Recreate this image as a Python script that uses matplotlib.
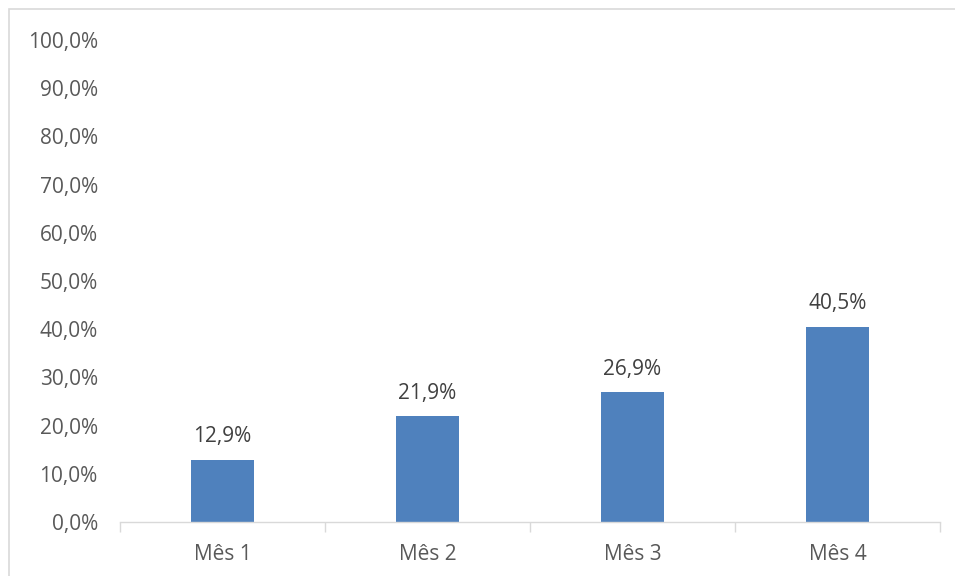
import matplotlib.pyplot as plt
from matplotlib.patches import Rectangle

months = ['Mês 1', 'Mês 2', 'Mês 3', 'Mês 4']
values = [12.9, 21.9, 26.9, 40.5]
yticks = [0, 10, 20, 30, 40, 50, 60, 70, 80, 90, 100]

bar_color = '#4F81BD'
tick_color = '#595959'
label_color = '#404040'
grid_color = '#D9D9D9'

plt.rcParams['font.family'] = ['Open Sans', 'DejaVu Sans']

fig = plt.figure(figsize=(9.55, 5.76), dpi=100)
ax = fig.add_axes([120 / 955, 1 - 522 / 576, 820 / 955, 482 / 576])

# chart area frame
fig.patches.append(Rectangle((9 / 955, -0.1), 1.2, 1.1 - 9 / 576,
                             transform=fig.transFigure, fill=False,
                             edgecolor=grid_color, linewidth=1.2))

x = list(range(len(months)))
bars = ax.bar(x, values, width=0.31, color=bar_color, zorder=2)

for xi, v in zip(x, values):
    ax.text(xi, v + 2.6, f'{v:.1f}%'.replace('.', ','), ha='center', va='bottom',
            fontsize=15, color=label_color)

ax.set_xlim(-0.5, len(months) - 0.5)
ax.set_ylim(0, 100)
ax.set_yticks(yticks)
ax.set_yticklabels([f'{t:.1f}%'.replace('.', ',') for t in yticks])
ax.set_xticks(x)
ax.set_xticklabels(months)

# category boundary ticks on the x axis
ax.set_xticks([i - 0.5 for i in range(len(months) + 1)], minor=True)
ax.tick_params(axis='x', which='major', length=0, pad=16, labelsize=15, labelcolor=tick_color)
ax.tick_params(axis='x', which='minor', length=7, width=1, color=grid_color)
ax.tick_params(axis='y', length=0, pad=16, labelsize=15, labelcolor=tick_color)

for side in ['left', 'right', 'top']:
    ax.spines[side].set_visible(False)
ax.spines['bottom'].set_color(grid_color)
ax.spines['bottom'].set_linewidth(1)

fig.savefig('out.png', dpi=100)
